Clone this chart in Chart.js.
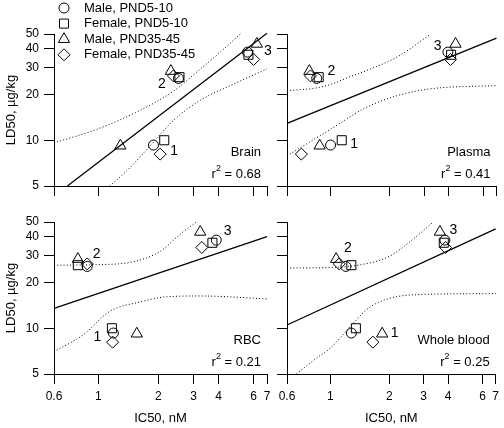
<!DOCTYPE html>
<html>
<head>
<meta charset="utf-8">
<script src="https://cdn.jsdelivr.net/npm/chart.js@4.4.0/dist/chart.umd.min.js"></script>
<style>
  body { margin: 0; background: #fff; }
  #wrap { position: relative; width: 504px; height: 428px; }
  canvas { position: absolute; left: 0; top: 0; }
</style>
</head>
<body>
<div id="wrap">
  <canvas id="brain" width="504" height="428"></canvas>
  <canvas id="plasma" width="504" height="428"></canvas>
  <canvas id="rbc" width="504" height="428"></canvas>
  <canvas id="blood" width="504" height="428"></canvas>
</div>
<script>
const FONT = '"Liberation Sans", Arial, Helvetica, sans-serif';

const seriesNames = ['Male, PND5-10', 'Female, PND5-10', 'Male, PND35-45', 'Female, PND35-45'];
const groupLabels = ['1', '2', '3'];
const xTicks = [0.6, 1, 2, 3, 4, 6, 7];
const yTicks = [5, 10, 20, 30, 40, 50];

// LD50 (ug/kg) for groups 1-3, same in every panel
const ld50MaleP5 = [9.3, 25.5, 38];
const ld50FemaleP5 = [10, 26, 36.5];
const ld50MaleP35 = [9.2, 28.5, 43];
const ld50FemaleP35 = [8.1, 26.5, 34];

// IC50 (nM) per tissue, rows in series order
const brainIC50 = [[1.89, 2.52, 5.59], [2.14, 2.55, 5.65], [1.29, 2.31, 6.23], [2.04, 2.38, 6.0]];
const plasmaIC50 = [[1.0, 0.85, 3.96], [1.14, 0.87, 4.11], [0.88, 0.78, 4.33], [0.71, 0.79, 4.08]];
const rbcIC50 = [[1.19, 0.88, 3.9], [1.17, 0.79, 3.73], [1.56, 0.79, 3.24], [1.18, 0.88, 3.3]];
const bloodIC50 = [[1.28, 1.2, 3.85], [1.35, 1.28, 3.8], [1.84, 1.07, 3.63], [1.65, 1.11, 3.88]];

// regression lines and dotted bands
const brainFitX = [0.7, 7], brainFitY = [5, 50.5];
const brainUpX = [0.6, 1.0, 1.6, 2.4, 3.2, 3.85, 5.15], brainUpY = [9.6, 11.9, 15.6, 21.2, 29, 35.5, 50];
const brainLoX = [1.14, 1.39, 1.82, 2.38, 3.24, 4.76, 7], brainLoY = [5, 6.3, 9.2, 13.5, 18.3, 23.4, 29.5];

const plasmaFitX = [0.6, 7], plasmaFitY = [12.9, 47];
const plasmaUpX = [0.6, 0.85, 1.0, 1.24, 1.5, 2.2, 3.24], plasmaUpY = [21.2, 22.1, 23.3, 26, 28.5, 35.5, 50];
const plasmaLoX = [0.62, 1.03, 1.5, 2.2, 3.24, 7], plasmaLoY = [8.1, 12.1, 16.3, 19.7, 21.8, 22.9];

const rbcFitX = [0.6, 7], rbcFitY = [13.5, 40];
const rbcUpX = [0.6, 1.0, 1.5, 2.04, 2.57, 3.1], rbcUpY = [26, 26.2, 27.4, 32, 41.5, 50];
const rbcLoX = [0.6, 0.84, 1.14, 1.62, 2.2, 3.24, 7], rbcLoY = [7.0, 9.05, 12.9, 14.9, 16.1, 16.3, 15.6];

const bloodFitX = [0.6, 7], bloodFitY = [10.5, 45];
const bloodUpX = [0.6, 1.0, 1.39, 2.0, 2.57, 3.36], bloodUpY = [24.9, 25.1, 26, 29.7, 37.4, 50];
const bloodLoX = [0.67, 0.85, 1.0, 1.24, 1.56, 2.0, 3.0, 7], bloodLoY = [5, 6.36, 7.4, 10, 13.5, 15.7, 16.7, 16.9];

// where the group numbers sit (data units)
const brainTagX = [2.40, 2.08, 7.07], brainTagY = [8.42, 23.4, 38.7];
const plasmaTagX = [1.32, 1.01, 3.51], plasmaTagY = [9.37, 28.6, 41.3];
const rbcTagX = [0.99, 0.98, 4.45], rbcTagY = [8.71, 30.7, 43.6];
const bloodTagX = [2.13, 1.23, 4.25], bloodTagY = [9.27, 33.6, 44.3];

const ld50 = [ld50MaleP5, ld50FemaleP5, ld50MaleP35, ld50FemaleP35];
const markers = [
  { style: 'circle', r: 5 },
  { style: 'rect', r: 6.4 },
  { style: 'triangle', r: 6.5 },
  { style: 'rectRot', r: 6 }
];

const panels = [
  { id: 'brain', name: 'Brain', r2: '0.68', ic50: brainIC50,
    fit: [brainFitX, brainFitY], up: [brainUpX, brainUpY], lo: [brainLoX, brainLoY], tag: [brainTagX, brainTagY],
    pad: { left: 0, top: 34, right: 237, bottom: 212 }, left: true, bottom: false, legend: true },
  { id: 'plasma', name: 'Plasma', r2: '0.41', ic50: plasmaIC50,
    fit: [plasmaFitX, plasmaFitY], up: [plasmaUpX, plasmaUpY], lo: [plasmaLoX, plasmaLoY], tag: [plasmaTagX, plasmaTagY],
    pad: { left: 233, top: 34, right: 4, bottom: 212 }, left: false, bottom: false },
  { id: 'rbc', name: 'RBC', r2: '0.21', ic50: rbcIC50,
    fit: [rbcFitX, rbcFitY], up: [rbcUpX, rbcUpY], lo: [rbcLoX, rbcLoY], tag: [rbcTagX, rbcTagY],
    pad: { left: 0, top: 222, right: 237, bottom: 0 }, left: true, bottom: true },
  { id: 'blood', name: 'Whole blood', r2: '0.25', ic50: bloodIC50,
    fit: [bloodFitX, bloodFitY], up: [bloodUpX, bloodUpY], lo: [bloodLoX, bloodLoY], tag: [bloodTagX, bloodTagY],
    pad: { left: 233, top: 222, right: 4, bottom: 0 }, left: false, bottom: true }
];

function pairs(xs, ys) {
  return xs.map((x, i) => ({ x: x, y: ys[i] }));
}

function lineSet(xy, dotted) {
  return {
    type: 'line',
    data: pairs(xy[0], xy[1]),
    borderColor: '#000',
    borderWidth: dotted ? 1 : 1.3,
    borderDash: dotted ? [1, 2.2] : [],
    pointRadius: 0,
    fill: false,
    cubicInterpolationMode: dotted ? 'monotone' : 'default',
    clip: false
  };
}

function strokeMarker(ctx, m, x, y) {
  ctx.save();
  ctx.strokeStyle = '#000';
  ctx.fillStyle = 'rgba(0,0,0,0)';
  ctx.lineWidth = 1;
  Chart.helpers.drawPoint(ctx, { pointStyle: m.style, radius: m.r, rotation: 0, borderWidth: 1 }, x, y);
  ctx.restore();
}

const legendPlugin = {
  id: 'sideLegend',
  afterDraw(chart) {
    const ctx = chart.ctx;
    ctx.save();
    ctx.font = '13px ' + FONT;
    ctx.fillStyle = '#000';
    ctx.textAlign = 'left';
    ctx.textBaseline = 'middle';
    seriesNames.forEach((name, i) => {
      const y = 8 + i * 15.6;
      strokeMarker(ctx, markers[i], 64, y);
      ctx.fillText(name, 84, y);
    });
    ctx.restore();
  }
};

function textPlugin(p) {
  return {
    id: 'panelText',
    afterDatasetsDraw(chart) {
      const { ctx, chartArea, scales } = chart;
      ctx.save();
      ctx.fillStyle = '#000';
      ctx.textBaseline = 'middle';
      ctx.textAlign = 'center';
      ctx.font = '14px ' + FONT;
      groupLabels.forEach((t, i) => {
        ctx.fillText(t, scales.x.getPixelForValue(p.tag[0][i]), scales.y.getPixelForValue(p.tag[1][i]));
      });
      ctx.textAlign = 'right';
      ctx.font = '13px ' + FONT;
      const rx = chartArea.right - 6;
      ctx.fillText(p.name, rx, chartArea.bottom - 34);
      const rest = ' = ' + p.r2;
      const wRest = ctx.measureText(rest).width;
      ctx.fillText(rest, rx, chartArea.bottom - 12);
      ctx.font = '9px ' + FONT;
      const w2 = ctx.measureText('2').width;
      ctx.fillText('2', rx - wRest, chartArea.bottom - 17);
      ctx.font = '13px ' + FONT;
      ctx.fillText('r', rx - wRest - w2, chartArea.bottom - 12);
      ctx.restore();
    }
  };
}

Chart.defaults.font.family = FONT;
Chart.defaults.color = '#000';

panels.forEach(p => {
  const datasets = [lineSet(p.fit, false), lineSet(p.up, true), lineSet(p.lo, true)];
  markers.forEach((m, s) => {
    datasets.push({
      label: seriesNames[s],
      data: pairs(p.ic50[s], ld50[s]),
      pointStyle: m.style,
      pointRadius: m.r,
      pointHoverRadius: m.r,
      pointBorderWidth: 1,
      borderColor: '#000',
      backgroundColor: 'rgba(0,0,0,0)',
      clip: false
    });
  });

  const plugins = [textPlugin(p)];
  if (p.legend) plugins.push(legendPlugin);

  new Chart(document.getElementById(p.id), {
    type: 'scatter',
    data: { datasets: datasets },
    plugins: plugins,
    options: {
      responsive: false,
      animation: false,
      layout: { padding: p.pad },
      plugins: { legend: { display: false }, tooltip: { enabled: false } },
      scales: {
        x: {
          type: 'logarithmic',
          min: 0.6,
          max: 7,
          afterBuildTicks: s => { s.ticks = xTicks.map(v => ({ value: v })); },
          afterFit: s => { s.height = p.bottom ? 54 : 30; },
          ticks: { display: p.bottom, autoSkip: false, maxRotation: 0, padding: 5,
                   font: { size: 12 }, color: '#000', callback: v => String(v) },
          grid: { drawOnChartArea: false, tickLength: 10, color: '#000', lineWidth: 1 },
          border: { color: '#000', width: 1 },
          title: { display: p.bottom, text: 'IC50, nM', color: '#000', font: { size: 13 }, padding: { top: 0, bottom: 2 } }
        },
        y: {
          type: 'logarithmic',
          min: 5,
          max: 50,
          afterBuildTicks: s => { s.ticks = yTicks.map(v => ({ value: v })); },
          afterFit: s => { s.width = 54; },
          ticks: { display: p.left, autoSkip: false, padding: 5,
                   font: { size: 12 }, color: '#000', callback: v => String(v) },
          grid: { drawOnChartArea: false, tickLength: 10, color: '#000', lineWidth: 1 },
          border: { color: '#000', width: 1 },
          title: { display: p.left, text: 'LD50, µg/kg', color: '#000', font: { size: 13 }, padding: { top: 4, bottom: 0 } }
        }
      }
    }
  });
});
</script>
</body>
</html>
